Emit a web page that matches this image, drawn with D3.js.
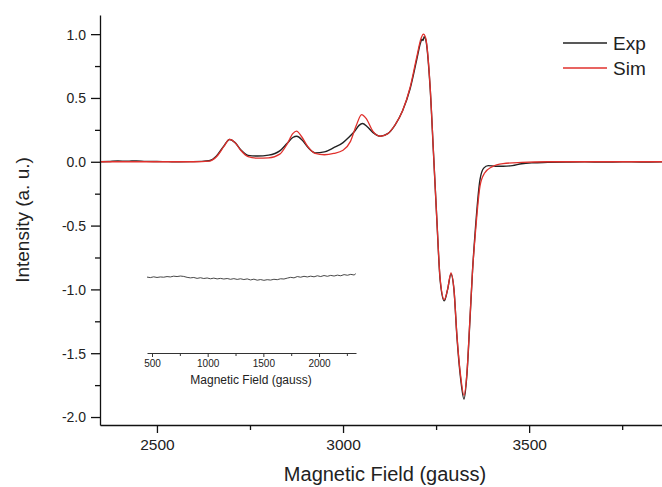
<!DOCTYPE html>
<html>
<head>
<meta charset="utf-8">
<script src="https://cdn.jsdelivr.net/npm/d3@7"></script>
<style>
    body { margin: 0; background: #fff; }
    svg text { font-family: "Liberation Sans", Arial, sans-serif; fill: #222; }
</style>
</head>
<body>
<svg id="chart" width="662" height="487"></svg>
<script>
// main spectrum, field in gauss
var expField = [2347, 2370, 2395, 2420, 2445, 2470, 2500, 2530, 2560, 2590, 2620, 2640, 2660, 2680, 2695, 2710, 2725, 2745,
    2770, 2800, 2830, 2850, 2865, 2876, 2890, 2905, 2925, 2950, 2975, 3000, 3015, 3030, 3043, 3052, 3065, 3080, 3100,
    3120, 3140, 3160, 3180, 3198, 3208, 3212, 3215, 3218, 3222, 3234, 3243, 3252, 3261, 3272, 3281, 3290, 3298, 3306,
    3316, 3325, 3333, 3341, 3348, 3355, 3368, 3378, 3390, 3410, 3430, 3455, 3480, 3510, 3550, 3600, 3650, 3700, 3750,
    3800, 3857];
var expValues = [0.000, 0.002, 0.006, 0.004, 0.007, 0.003, 0.002, 0.001, 0.000, 0.001, 0.003, 0.008, 0.045, 0.125, 0.175,
    0.150, 0.095, 0.050, 0.045, 0.052, 0.085, 0.145, 0.190, 0.200, 0.170, 0.115, 0.070, 0.078, 0.110, 0.150, 0.190, 0.235,
    0.285, 0.300, 0.275, 0.230, 0.200, 0.220, 0.290, 0.400, 0.570, 0.800, 0.930, 0.960, 0.950, 0.980, 0.960, 0.580, 0.070,
    -0.450, -0.930, -1.090, -1.000, -0.880, -1.000, -1.370, -1.700, -1.860, -1.660, -1.240, -0.850, -0.550, -0.140, -0.050,
    -0.030, -0.035, -0.035, -0.030, -0.015, -0.008, -0.005, -0.002, 0.000, -0.003, 0.000, -0.002, 0.000];

var simField = [2347, 2600, 2640, 2660, 2680, 2695, 2710, 2725, 2745, 2770, 2800, 2830, 2850, 2865, 2875, 2888, 2905, 2925,
    2950, 2975, 3000, 3020, 3035, 3050, 3062, 3080, 3100, 3120, 3140, 3160, 3180, 3198, 3210, 3216, 3222, 3234, 3243,
    3252, 3261, 3272, 3281, 3290, 3298, 3306, 3316, 3325, 3333, 3341, 3348, 3355, 3368, 3380, 3400, 3430, 3480, 3550, 3857];
var simValues = [0.000, 0.000, 0.005, 0.040, 0.120, 0.175, 0.150, 0.090, 0.040, 0.028, 0.030, 0.060, 0.140, 0.220, 0.240,
    0.200, 0.120, 0.065, 0.055, 0.065, 0.090, 0.160, 0.280, 0.370, 0.340, 0.240, 0.200, 0.220, 0.290, 0.400, 0.580, 0.820,
    0.970, 1.000, 0.970, 0.590, 0.070, -0.450, -0.920, -1.080, -1.000, -0.870, -1.000, -1.360, -1.680, -1.830, -1.650,
    -1.230, -0.850, -0.580, -0.190, -0.090, -0.040, -0.015, -0.005, 0.000, 0.000];

// inset: low field scan
var insetField = [455, 485, 515, 545, 575, 605, 635, 665, 695, 725, 755, 785, 815, 845, 875, 905, 935, 965, 995, 1025,
    1055, 1085, 1115, 1145, 1175, 1205, 1235, 1265, 1295, 1325, 1355, 1385, 1415, 1445, 1475, 1505, 1535, 1565, 1595,
    1625, 1655, 1685, 1715, 1745, 1775, 1805, 1835, 1865, 1895, 1925, 1955, 1985, 2015, 2045, 2075, 2105, 2135, 2165,
    2195, 2225, 2255, 2285, 2315, 2330];
var insetValues = [-0.016, -0.020, -0.014, -0.019, -0.015, -0.017, -0.012, -0.015, -0.009, -0.012, -0.008, -0.011, -0.018,
    -0.022, -0.019, -0.026, -0.021, -0.027, -0.023, -0.029, -0.024, -0.030, -0.026, -0.031, -0.027, -0.033, -0.028, -0.034,
    -0.029, -0.035, -0.030, -0.038, -0.032, -0.040, -0.035, -0.041, -0.036, -0.039, -0.033, -0.036, -0.029, -0.031, -0.024,
    -0.018, -0.022, -0.012, -0.017, -0.010, -0.015, -0.009, -0.014, -0.006, -0.012, -0.004, -0.010, -0.003, -0.008, -0.001,
    -0.006, 0.003, -0.002, 0.005, 0.000, 0.010];

var yTicks = [-2.0, -1.5, -1.0, -0.5, 0.0, 0.5, 1.0];
var yMinorTicks = [-1.75, -1.25, -0.75, -0.25, 0.25, 0.75];
var xTicks = [2500, 3000, 3500];
var xMinorTicks = [2750, 3250, 3750];
var insetTicks = [500, 1000, 1500, 2000];
var insetMinorTicks = [750, 1250, 1750, 2250];

var seriesNames = ["Exp", "Sim"];
var seriesColors = ["#222222", "#e0302c"];

var svg = d3.select("#chart");
svg.append("rect").attr("width", 662).attr("height", 487).attr("fill", "#fff");

var x = d3.scaleLinear().domain([2347, 3857]).range([100, 662]);
var y = d3.scaleLinear().domain([-2.0625, 1.15]).range([425, 15]);

var xi = d3.scaleLinear().domain([455, 2332]).range([147, 356]);
var yi = d3.scaleLinear().domain([-0.6, 0.1]).range([353, 262]);

// traces
function zipPts(xs, ys) {
    return xs.map(function (d, i) { return [d, ys[i]]; });
}

var line = d3.line()
    .x(function (d) { return x(d[0]); })
    .y(function (d) { return y(d[1]); })
    .curve(d3.curveMonotoneX);

svg.append("path")
    .datum(zipPts(expField, expValues))
    .attr("d", line)
    .attr("fill", "none")
    .attr("stroke", seriesColors[0])
    .attr("stroke-width", 1.4);

svg.append("path")
    .datum(zipPts(simField, simValues))
    .attr("d", line)
    .attr("fill", "none")
    .attr("stroke", seriesColors[1])
    .attr("stroke-width", 1.3);

// main axes (plain hyphen for negatives, like the original)
var yAxis = svg.append("g")
    .attr("transform", "translate(100,0)")
    .call(d3.axisLeft(y).tickValues(yTicks).tickSize(9).tickSizeOuter(0).tickPadding(5)
        .tickFormat(function (d) { return d.toFixed(1); }));
yAxis.selectAll("text").style("font-size", "14px").attr("dy", "0.35em");

svg.append("g")
    .attr("transform", "translate(100,0)")
    .call(d3.axisLeft(y).tickValues(yMinorTicks).tickSize(5).tickFormat(""))
    .select(".domain").remove();

var xAxis = svg.append("g")
    .attr("transform", "translate(0,425)")
    .call(d3.axisBottom(x).tickValues(xTicks).tickSize(8).tickSizeOuter(0).tickPadding(6).tickFormat(d3.format("d")));
xAxis.selectAll("text").style("font-size", "15.5px");

svg.append("g")
    .attr("transform", "translate(0,425)")
    .call(d3.axisBottom(x).tickValues(xMinorTicks).tickSize(5).tickFormat(""))
    .select(".domain").remove();

svg.selectAll(".domain, .tick line").attr("stroke", "#111").attr("stroke-width", 1.3);
svg.selectAll(".tick text").attr("fill", "#222");

svg.append("text")
    .attr("x", 385)
    .attr("y", 481)
    .attr("text-anchor", "middle")
    .style("font-size", "20px")
    .text("Magnetic Field (gauss)");

svg.append("text")
    .attr("transform", "translate(29,220) rotate(-90)")
    .attr("text-anchor", "middle")
    .style("font-size", "19px")
    .text("Intensity (a. u.)");

// inset
var inset = svg.append("g").attr("class", "inset");

inset.append("path")
    .datum(zipPts(insetField, insetValues))
    .attr("d", d3.line()
        .x(function (d) { return xi(d[0]); })
        .y(function (d) { return yi(d[1]); }))
    .attr("fill", "none")
    .attr("stroke", "#333")
    .attr("stroke-width", 0.9);

var insetAxis = inset.append("g")
    .attr("transform", "translate(0,353)")
    .call(d3.axisBottom(xi).tickValues(insetTicks).tickSize(4).tickPadding(3).tickSizeOuter(0).tickFormat(d3.format("d")));
insetAxis.selectAll("text").style("font-size", "10px").attr("fill", "#333");

inset.append("g")
    .attr("transform", "translate(0,353)")
    .call(d3.axisBottom(xi).tickValues(insetMinorTicks).tickSize(3).tickFormat(""))
    .select(".domain").remove();

inset.selectAll(".domain, .tick line").attr("stroke", "#333").attr("stroke-width", 1);

inset.append("text")
    .attr("x", 251)
    .attr("y", 384)
    .attr("text-anchor", "middle")
    .style("font-size", "12px")
    .attr("fill", "#333")
    .text("Magnetic Field (gauss)");

// legend
var legend = svg.append("g")
    .selectAll("g")
    .data(seriesNames)
    .enter()
    .append("g")
    .attr("transform", function (d, i) {
        return "translate(563," + (43 + i * 25) + ")";
    });

legend.append("line")
    .attr("x1", 0).attr("x2", 44)
    .attr("stroke", function (d, i) { return seriesColors[i]; })
    .attr("stroke-width", 1.5);

legend.append("text")
    .attr("x", 50)
    .attr("dy", "0.36em")
    .style("font-size", "19px")
    .text(function (d) { return d; });
</script>
</body>
</html>
